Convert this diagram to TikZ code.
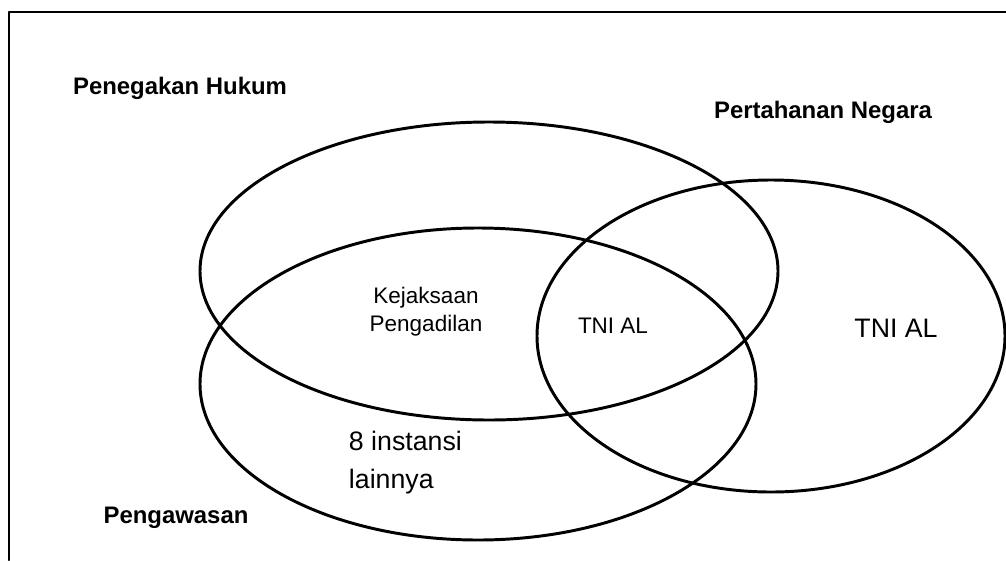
\documentclass[tikz,border=0pt]{standalone}
\usepackage{fontspec}
\setmainfont{Liberation Sans}
\usepackage{tikz}
\begin{document}
\begin{tikzpicture}[
  x=0.025cm,y=-0.025cm,
  line cap=round,line join=round,
  ring/.style={line width=2.1pt},
  frame/.style={line width=2.1pt},
  title/.style={font=\fontsize{17}{20}\selectfont\bfseries},
  member/.style={font=\fontsize{16}{20}\selectfont,align=center},
  bigmember/.style={font=\fontsize{19}{27}\selectfont,align=left}
]
  \useasboundingbox (0,0) rectangle (1006,560);

  % Frame (top and left edges)
  \draw[frame] (1006,12) -- (9,12) -- (9,560);

  % Three sets
  \draw[ring] (489,271) ellipse (289 and 149);
  \draw[ring] (478,384) ellipse (278 and 156);
  \draw[ring] (771,336) ellipse (234 and 156);

  % Set titles
  \node[title] (hukum) at (180,88) {Penegakan Hukum};
  \node[title] (negara) at (823,112) {Pertahanan Negara};
  \node[title] (awas) at (176,518) {Pengawasan};

  % Members
  \node[member] (kejaksaan) at (426,312) {Kejaksaan\\Pengadilan};
  \node[member] (tnimid) at (613,326) {TNI AL};
  \node[bigmember] (tniright) at (896,328) {TNI AL};
  \node[bigmember,anchor=west] (lain) at (344,463) {8 instansi\\lainnya};
\end{tikzpicture}
\end{document}
